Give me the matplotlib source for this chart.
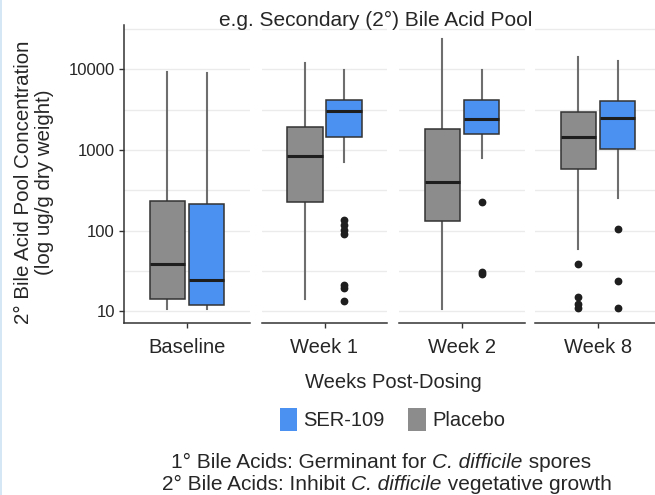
import matplotlib
matplotlib.use("Agg")
import matplotlib.pyplot as plt
from matplotlib.patches import Rectangle
from matplotlib.ticker import FixedLocator, NullFormatter

plt.rcParams["font.family"] = ["Liberation Sans", "DejaVu Sans"]

# ---------------- data ----------------
weeks = ["Baseline", "Week 1", "Week 2", "Week 8"]

placebo_whislo = [10.8, 14.4, 10.8, 59]
placebo_q1 = [14.4, 226, 133, 582]
placebo_med = [38.8, 843, 406, 1459]
placebo_q3 = [230, 1940, 1800, 2917]
placebo_whishi = [9260, 11960, 23900, 14200]
placebo_fliers = [[], [], [], [39, 15.3, 12.4, 10.9]]

ser_whislo = [10.6, 705, 789, 253]
ser_q1 = [12.0, 1459, 1578, 1028]
ser_med = [24.8, 3025, 2415, 2507]
ser_q3 = [215, 4140, 4140, 3990]
ser_whishi = [8850, 9720, 9720, 12650]
ser_fliers = [[], [137, 116, 101, 92, 21.5, 19.6, 13.6], [224, 31, 29.5], [106, 24, 10.9]]

y_major = [10, 100, 1000, 10000]
y_major_labels = ["10", "100", "1000", "10000"]
y_minor = [3.162, 31.62, 316.2, 3162, 31623]

placebo_color = "#8c8c8c"
ser_color = "#4a91f2"

W, H = 655, 495
fig = plt.figure(figsize=(W / 100, H / 100), dpi=100)


def fx(x):
    return x / W


def fy(y):
    return 1 - y / H


panel_left_px = [124, 261.5, 399, 535]
panel_w_px = 126
top_px, bot_px = 25, 323

axes = []
for i, wk in enumerate(weeks):
    ax = fig.add_axes([fx(panel_left_px[i]), fy(bot_px), panel_w_px / W, (bot_px - top_px) / H])
    axes.append(ax)
    ax.set_yscale("log")
    ax.set_ylim(7.2, 35200)
    ax.set_xlim(0.4, 1.6)

    stats = [
        dict(med=placebo_med[i], q1=placebo_q1[i], q3=placebo_q3[i],
             whislo=placebo_whislo[i], whishi=placebo_whishi[i], fliers=placebo_fliers[i]),
        dict(med=ser_med[i], q1=ser_q1[i], q3=ser_q3[i],
             whislo=ser_whislo[i], whishi=ser_whishi[i], fliers=ser_fliers[i]),
    ]
    res = ax.bxp(stats, positions=[1 - 0.1875, 1 + 0.1875], widths=0.3375,
                 patch_artist=True, showcaps=False,
                 boxprops=dict(edgecolor="#333333", linewidth=1.1),
                 whiskerprops=dict(color="#6e6e6e", linewidth=1.5),
                 medianprops=dict(color="#1e1e1e", linewidth=2.2),
                 flierprops=dict(marker="o", markerfacecolor="#1e1e1e",
                                 markeredgecolor="#1e1e1e", markersize=4.6))
    for box, col in zip(res["boxes"], [placebo_color, ser_color]):
        box.set_facecolor(col)
        box.set_zorder(3)
    for m in res["medians"]:
        m.set_zorder(4)

    ax.yaxis.set_major_locator(FixedLocator(y_major))
    ax.yaxis.set_minor_locator(FixedLocator(y_minor))
    ax.yaxis.set_minor_formatter(NullFormatter())
    ax.grid(True, which="both", axis="y", color="#ebebeb", linewidth=1.0, zorder=0)
    ax.set_axisbelow(True)

    for s in ["top", "right"]:
        ax.spines[s].set_visible(False)
    ax.spines["bottom"].set_color("#333333")
    ax.spines["bottom"].set_linewidth(1.1)
    ax.set_xticks([1])
    ax.set_xticklabels([wk])
    ax.tick_params(axis="x", length=3.5, width=1.0, color="#333333",
                   labelsize=14.5, labelcolor="#262626", pad=7)
    ax.tick_params(axis="y", which="minor", length=0)
    if i == 0:
        ax.spines["left"].set_color("#333333")
        ax.spines["left"].set_linewidth(1.1)
        ax.set_yticklabels(y_major_labels)
        ax.tick_params(axis="y", which="major", length=3.5, width=1.0, color="#333333",
                       labelsize=12, labelcolor="#262626", pad=3)
    else:
        ax.spines["left"].set_visible(False)
        ax.tick_params(axis="y", which="major", length=0, labelleft=False)

# titles and labels
fig.text(fx(376), fy(20), "e.g. Secondary (2°) Bile Acid Pool", ha="center", va="center",
         fontsize=15, color="#262626")
fig.text(fx(34), fy(182), "2° Bile Acid Pool Concentration\n(log ug/g dry weight)",
         rotation=90, ha="center", va="center", multialignment="center",
         fontsize=14.8, color="#262626", linespacing=1.1)
fig.text(fx(393), fy(382), "Weeks Post-Dosing", ha="center", va="center",
         fontsize=14.5, color="#262626")

# legend
fig.patches.append(Rectangle((fx(280), fy(431)), 17 / W, 23 / H, transform=fig.transFigure,
                             facecolor=ser_color, edgecolor="none"))
fig.text(fx(303), fy(420), "SER-109", ha="left", va="center", fontsize=14.5, color="#262626")
fig.patches.append(Rectangle((fx(408), fy(431)), 18 / W, 23 / H, transform=fig.transFigure,
                             facecolor=placebo_color, edgecolor="none"))
fig.text(fx(432), fy(420), "Placebo", ha="left", va="center", fontsize=14.5, color="#262626")

# footnotes with mixed normal / italic segments
renderer = fig.canvas.get_renderer()


def rich_line(segments, xc_px, yc_px, size=15):
    texts = []
    for s, style in segments:
        t = fig.text(0, fy(yc_px), s, ha="left", va="baseline", fontsize=size,
                     style=style, color="#262626")
        texts.append(t)
    widths = [t.get_window_extent(renderer).width for t in texts]
    total = sum(widths)
    x = xc_px - total / 2
    for t, w in zip(texts, widths):
        t.set_x(fx(x))
        x += w


rich_line([("1° Bile Acids: Germinant for ", "normal"), ("C. difficile", "italic"),
           (" spores", "normal")], 381, 468)
rich_line([("2° Bile Acids: Inhibit ", "normal"), ("C. difficile", "italic"),
           (" vegetative growth", "normal")], 387, 490)

# thin light-blue frame on the left edge
fig.patches.append(Rectangle((0, 0), 2 / W, 1, transform=fig.transFigure,
                             facecolor="#d5e6f5", edgecolor="none"))

fig.savefig("out.png", dpi=100)
